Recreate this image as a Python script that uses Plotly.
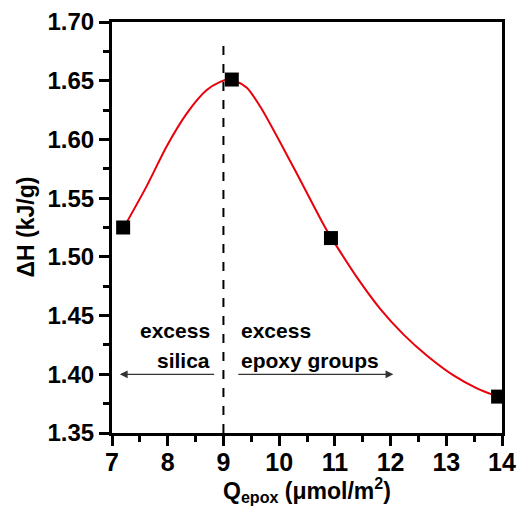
import plotly.graph_objects as go

# Measured data points
q_epox = [7.2, 9.15, 10.93, 13.93]
delta_h = [1.525, 1.651, 1.516, 1.381]

# Fitted curve
curve_x = [7.2, 7.62, 7.98, 8.34, 8.70, 8.94, 9.08, 9.20, 9.42, 9.66, 10.25, 10.85, 11.06, 11.39, 11.81, 12.23, 12.65, 13.13, 13.55, 13.92]
curve_y = [1.524, 1.560, 1.594, 1.622, 1.642, 1.649, 1.651, 1.650, 1.644, 1.628, 1.577, 1.523, 1.507, 1.483, 1.456, 1.434, 1.416, 1.399, 1.388, 1.381]

x_ticks = [7, 8, 9, 10, 11, 12, 13, 14]
y_ticks = [1.35, 1.40, 1.45, 1.50, 1.55, 1.60, 1.65, 1.70]
y_tick_text = ["1.35", "1.40", "1.45", "1.50", "1.55", "1.60", "1.65", "1.70"]

divider_x = 9.0
divider_top = 1.682

FONT = "Liberation Sans, Arial, sans-serif"

fig = go.Figure()
fig.add_trace(go.Scatter(x=curve_x, y=curve_y, mode="lines",
                         line=dict(color="#e8000b", width=2, shape="spline", smoothing=0.8),
                         hoverinfo="skip", showlegend=False))
fig.add_trace(go.Scatter(x=q_epox, y=delta_h, mode="markers",
                         marker=dict(symbol="square", size=14, color="black"),
                         showlegend=False))

fig.add_shape(type="line", x0=divider_x, x1=divider_x, y0=1.35, y1=divider_top,
              xref="x", yref="y", line=dict(color="black", width=2, dash="dash"))

# arrows
fig.add_annotation(x=7.14, y=1.40, ax=8.86, ay=1.40, xref="x", yref="y", axref="x", ayref="y",
                   text="", showarrow=True, arrowhead=2, arrowsize=1.2, arrowwidth=1.3, arrowcolor="#333")
fig.add_annotation(x=12.05, y=1.40, ax=9.24, ay=1.40, xref="x", yref="y", axref="x", ayref="y",
                   text="", showarrow=True, arrowhead=2, arrowsize=1.2, arrowwidth=1.3, arrowcolor="#333")

txtfont = dict(family=FONT, size=21, color="black", weight="bold")
fig.add_annotation(x=8.8, y=1.4377, text="excess", showarrow=False, xanchor="right", yanchor="middle", font=txtfont)
fig.add_annotation(x=8.8, y=1.4115, text="silica", showarrow=False, xanchor="right", yanchor="middle", font=txtfont)
fig.add_annotation(x=9.28, y=1.4377, text="excess", showarrow=False, xanchor="left", yanchor="middle", font=txtfont)
fig.add_annotation(x=9.28, y=1.4115, text="epoxy groups", showarrow=False, xanchor="left", yanchor="middle", font=txtfont)

# axis titles
fig.add_annotation(xref="paper", yref="paper", x=0.5, y=-0.139, xanchor="center", yanchor="middle",
                   text="Q<sub>epox</sub> (μmol/m<sup>2</sup>)", showarrow=False,
                   font=dict(family=FONT, size=23, color="black", weight="bold"))
fig.add_annotation(xref="paper", yref="paper", x=-0.223, y=0.5, xanchor="center", yanchor="middle",
                   text="ΔH (kJ/g)", textangle=-90, showarrow=False,
                   font=dict(family=FONT, size=23, color="black", weight="bold"))

fig.update_layout(
    width=517, height=510,
    margin=dict(l=112, r=15, t=22, b=77, autoexpand=False),
    paper_bgcolor="white", plot_bgcolor="white",
    font=dict(family=FONT, color="black"),
)
fig.update_xaxes(range=[7, 14], tickvals=x_ticks, ticks="outside", ticklen=10, tickwidth=2.5,
                 tickcolor="black", showline=True, linewidth=3, linecolor="black", mirror=True,
                 showgrid=False, zeroline=False, automargin=False, ticklabelstandoff=-5,
                 tickfont=dict(family=FONT, size=25, weight="bold"),
                 minor=dict(dtick=0.5, ticks="outside", ticklen=6, tickwidth=2.5, tickcolor="black"))
fig.update_yaxes(range=[1.35, 1.70], tickvals=y_ticks, ticktext=y_tick_text, ticks="outside", ticklen=10,
                 tickwidth=2.5, tickcolor="black", showline=True, linewidth=3, linecolor="black", mirror=True,
                 showgrid=False, zeroline=False, automargin=False,
                 tickfont=dict(family=FONT, size=24, weight="bold"),
                 minor=dict(dtick=0.025, ticks="outside", ticklen=6, tickwidth=2.5, tickcolor="black"))

fig.write_html("out.html", config={"displayModeBar": False},
               post_script="document.body.style.margin='0';document.body.style.overflow='hidden';")
